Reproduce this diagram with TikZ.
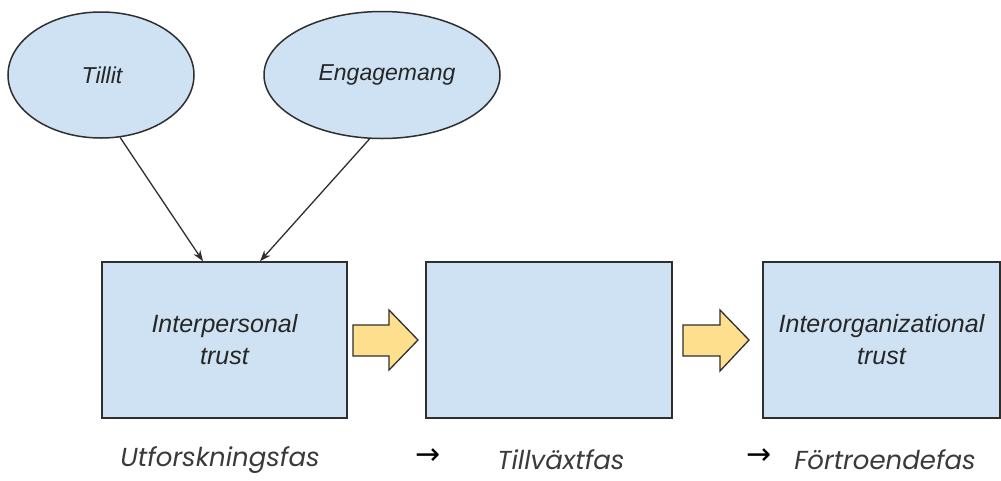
\documentclass[tikz,border=0pt]{standalone}
\usepackage{fontspec}
\setmainfont{Liberation Sans}
\newfontfamily\popfont{Poppins}
\newfontfamily\dejafont{DejaVu Sans}
\usetikzlibrary{shapes.geometric,arrows.meta,calc}
\definecolor{boxblue}{HTML}{CFE2F3}
\definecolor{arrowyellow}{HTML}{FDDF8E}
\definecolor{edgegray}{HTML}{2F2F2F}
\definecolor{labelgray}{HTML}{3A3A3A}
\begin{document}
\begin{tikzpicture}[x=1pt,y=-1pt,
  ell/.style={ellipse,draw=edgegray,line width=1.5pt,fill=boxblue,inner sep=0pt},
  stagebox/.style={rectangle,draw=edgegray,line width=1.5pt,fill=boxblue,inner sep=0pt,
    font=\fontsize{25}{32}\selectfont\itshape,text=black!85,align=center},
  elltext/.style={font=\fontsize{23}{26}\selectfont\itshape,text=black!85},
  conn/.style={draw=edgegray,line width=1.3pt,-{Stealth[length=11pt,width=8pt]}},
  blockarrow/.style={draw=edgegray,line width=1.3pt,fill=arrowyellow,line join=miter},
  phase/.style={font=\popfont\fontsize{26}{28}\selectfont\itshape,text=labelgray,inner sep=1pt},
  phasearrow/.style={font=\dejafont\fontsize{30}{32}\selectfont,text=black,inner sep=1pt}]
\useasboundingbox (0,0) rectangle (1001,480);
\fill[white] (0,0) rectangle (1001,480);
% ellipses
\node[ell,minimum width=186pt,minimum height=126pt] (tillit) at (101,75) {};
\node[elltext] (tillittext) at (102,75) {Tillit};
\node[ell,minimum width=236pt,minimum height=127pt] (eng) at (382,75) {};
\node[elltext] (engtext) at (387,75) {Engagemang};
% boxes
\node[stagebox,minimum width=245pt,minimum height=156pt] (box1) at (224.5,340) {Interpersonal\\trust};
\node[stagebox,minimum width=246pt,minimum height=156pt] (box2) at (549,340) {};
\node[stagebox,minimum width=237pt,minimum height=156pt] (box3) at (881.5,340) {Interorganizational\\trust};
% connectors
\coordinate (in1) at ($(box1.north)+(-21.5,0)$);
\coordinate (in2) at ($(box1.north)+(35.5,0)$);
\draw[conn] (tillit.-73) -- (in1);
\draw[conn] (eng.-101) -- (in2);
% block arrows
\draw[blockarrow] (353,325) -- (389,325) -- (389,310) -- (418,340) -- (389,370) -- (389,356) -- (353,356) -- cycle;
\draw[blockarrow] (683,325) -- (720,325) -- (720,310) -- (749,340) -- (720,371) -- (720,356) -- (683,356) -- cycle;
% phases
\node[phase] (p1) at (220,460) {Utforskningsfas};
\node[phasearrow] (a1) at (428,457) {→};
\node[phase] (p2) at (561,460) {Tillväxtfas};
\node[phasearrow] (a2) at (759,457) {→};
\node[phase] (p3) at (885,460) {Förtroendefas};
\end{tikzpicture}
\end{document}
